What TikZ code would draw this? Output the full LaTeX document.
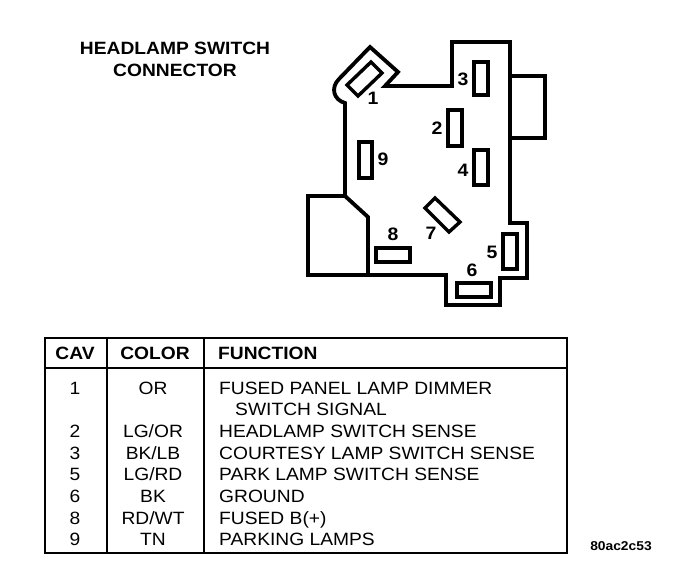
\documentclass[tikz,border=0pt]{standalone}
\usepackage{fontspec}
\setmainfont[FakeStretch=1.08]{Liberation Sans}
\tikzset{
	outline/.style={line width=1.35mm, line join=miter},
	slot/.style={line width=1.2mm},
	rule/.style={line width=0.8mm},
	pinlabel/.style={font=\fontsize{18}{18}\selectfont\bfseries, inner sep=0pt},
	headtext/.style={font=\fontsize{17.8}{18}\selectfont\bfseries, inner sep=0pt},
	celltext/.style={font=\fontsize{17.8}{18}\selectfont, inner sep=0pt, text height=12.8pt, text depth=0pt},
	functext/.style={celltext, anchor=west}
}

\begin{document}
\begin{tikzpicture}[x=1pt, y=-1pt]
			%%%%% START %%%%%
			\useasboundingbox (0, 0) rectangle (688, 584);
			
			\node[headtext] (titleA) at (175, 48) {HEADLAMP SWITCH};
			\node[headtext] (titleB) at (175, 70) {CONNECTOR};
			
			\draw[outline] (452, 42) -- (510, 42) -- (510, 223) -- (527, 223) -- (527, 278) -- (500, 278) -- (500, 305) -- (446, 305) -- (446, 275) -- (308, 275) -- (308, 196) -- (345, 196) -- (345, 103) .. controls (334, 100) and (330, 88) .. (339, 79) -- (370, 47) -- (398, 72) -- (385, 86) -- (452, 86) -- cycle;
			\draw[outline] (510, 76) -- (545, 76) -- (545, 138) -- (510, 138);
			\draw[outline] (345, 196) -- (368, 217) -- (368, 275);
			
			\draw[slot] (474, 62) rectangle (488, 95);
			\draw[slot] (448, 110) rectangle (462, 146);
			\draw[slot] (474, 150) rectangle (488, 185);
			\draw[slot] (359, 142) rectangle (372, 178);
			\draw[slot] (503, 234) rectangle (517, 269);
			\draw[slot] (457, 283) rectangle (491, 297);
			\draw[slot] (376, 248) rectangle (410, 262);
			\draw[slot] (435, 198) -- (460, 222) -- (449, 232) -- (425, 208) -- cycle;
			\draw[slot] (371, 62) -- (382, 73) -- (358, 96) -- (347, 85) -- cycle;
			
			\node[pinlabel] (pinA) at (373, 98) {1};
			\node[pinlabel] (pinB) at (437, 128) {2};
			\node[pinlabel] (pinC) at (463, 79) {3};
			\node[pinlabel] (pinD) at (463, 170) {4};
			\node[pinlabel] (pinE) at (492, 252) {5};
			\node[pinlabel] (pinF) at (472, 270) {6};
			\node[pinlabel] (pinG) at (431, 233) {7};
			\node[pinlabel] (pinH) at (393, 234) {8};
			\node[pinlabel] (pinI) at (383, 159) {9};
			
			\draw[rule] (45, 338) rectangle (567, 553);
			\draw[rule] (45, 368) -- (567, 368);
			\draw[rule] (107, 338) -- (107, 553);
			\draw[rule] (204, 338) -- (204, 553);
			
			\node[headtext] (headCav) at (75, 353) {CAV};
			\node[headtext] (headColor) at (155, 353) {COLOR};
			\node[headtext, anchor=west] (headFunc) at (218, 353) {FUNCTION};
			
			\node[celltext] (cavA) at (75, 388) {1};
			\node[celltext] (cavB) at (75, 431) {2};
			\node[celltext] (cavC) at (75, 453) {3};
			\node[celltext] (cavD) at (75, 474) {5};
			\node[celltext] (cavE) at (75, 496) {6};
			\node[celltext] (cavF) at (75, 518) {8};
			\node[celltext] (cavG) at (75, 539) {9};
			
			\node[celltext] (colorA) at (153, 388) {OR};
			\node[celltext] (colorB) at (153, 431) {LG/OR};
			\node[celltext] (colorC) at (153, 453) {BK/LB};
			\node[celltext] (colorD) at (153, 474) {LG/RD};
			\node[celltext] (colorE) at (153, 496) {BK};
			\node[celltext] (colorF) at (153, 518) {RD/WT};
			\node[celltext] (colorG) at (153, 539) {TN};
			
			\node[functext] (funcA) at (219, 388) {FUSED PANEL LAMP DIMMER};
			\node[functext] (funcB) at (235, 409) {SWITCH SIGNAL};
			\node[functext] (funcC) at (219, 431) {HEADLAMP SWITCH SENSE};
			\node[functext] (funcD) at (219, 453) {COURTESY LAMP SWITCH SENSE};
			\node[functext] (funcE) at (219, 474) {PARK LAMP SWITCH SENSE};
			\node[functext] (funcF) at (219, 496) {GROUND};
			\node[functext] (funcG) at (219, 518) {FUSED B(+)};
			\node[functext] (funcH) at (219, 539) {PARKING LAMPS};
			
			\node[font=\fontsize{12.8}{13}\selectfont\bfseries, inner sep=0pt] (stamp) at (621, 546) {80ac2c53};
			
			%%%%% END %%%%%
		\end{tikzpicture}
\end{document}
